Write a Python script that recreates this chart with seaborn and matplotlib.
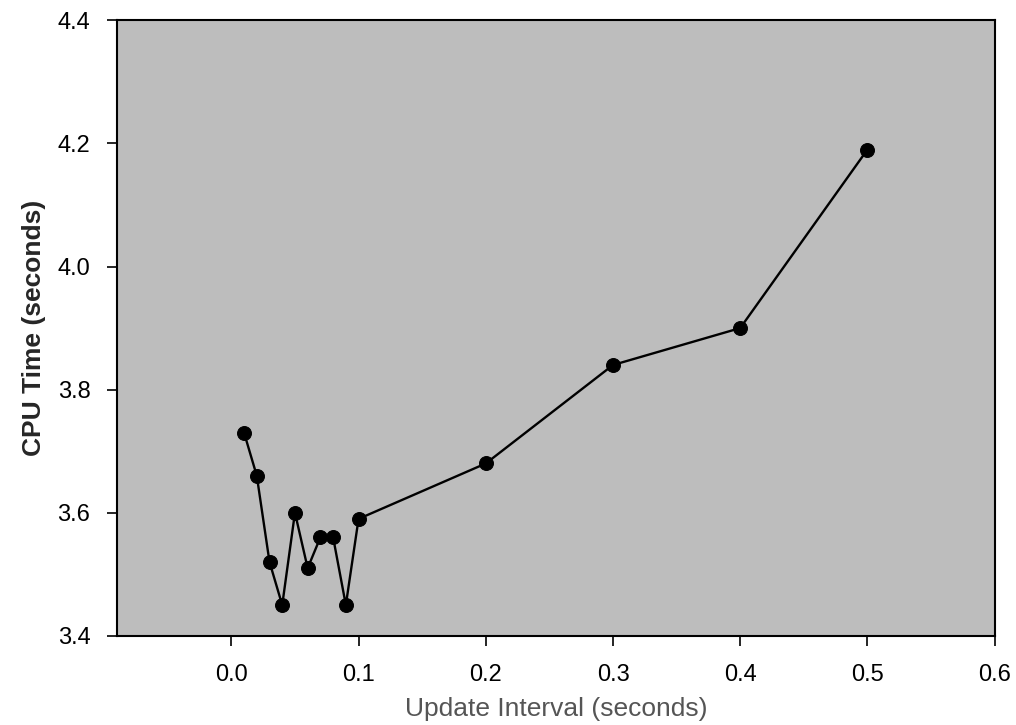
import matplotlib
matplotlib.use("Agg")
import matplotlib.pyplot as plt
import seaborn as sns
import pandas as pd

update_interval = [0.01, 0.02, 0.03, 0.04, 0.05, 0.06, 0.07, 0.08, 0.09, 0.10, 0.2, 0.3, 0.4, 0.5]
cpu_time = [3.73, 3.66, 3.52, 3.45, 3.60, 3.51, 3.56, 3.56, 3.45, 3.59, 3.68, 3.84, 3.90, 4.19]
x_ticks = [0.0, 0.1, 0.2, 0.3, 0.4, 0.5, 0.6]
y_ticks = [3.4, 3.6, 3.8, 4.0, 4.2, 4.4]

df = pd.DataFrame({"x": update_interval, "y": cpu_time})

sns.set_theme(style="ticks")
plt.rcParams['font.family'] = ['Liberation Sans', 'DejaVu Sans']

fig = plt.figure(figsize=(10.16, 7.25), dpi=100)
ax = fig.add_axes([0.115, 0.123, 0.864, 0.849])
ax.set_facecolor('#bdbdbd')
sns.lineplot(data=df, x="x", y="y", ax=ax, color='black', linewidth=1.7,
             marker='o', markersize=10, markeredgecolor='black', markerfacecolor='black')
ax.set_xlim(-0.09, 0.6)
ax.set_ylim(3.4, 4.4)
ax.set_xticks(x_ticks)
ax.set_xticklabels([f"{v:.1f}" for v in x_ticks])
ax.set_yticks(y_ticks)
ax.set_yticklabels([f"{v:.1f}" for v in y_ticks])
ax.tick_params(direction='out', length=7, width=1.2, labelsize=17, colors='black')
ax.tick_params(axis='x', pad=13)
ax.tick_params(axis='y', pad=12)
for s in ax.spines.values():
    s.set_visible(True)
    s.set_linewidth(1.5)
    s.set_color('black')
ax.set_xlabel("Update Interval (seconds)", fontsize=19, color='#555555', labelpad=8)
ax.set_ylabel("CPU Time (seconds)", fontsize=19, fontweight='bold', labelpad=8)
fig.savefig("out.png", dpi=100)
